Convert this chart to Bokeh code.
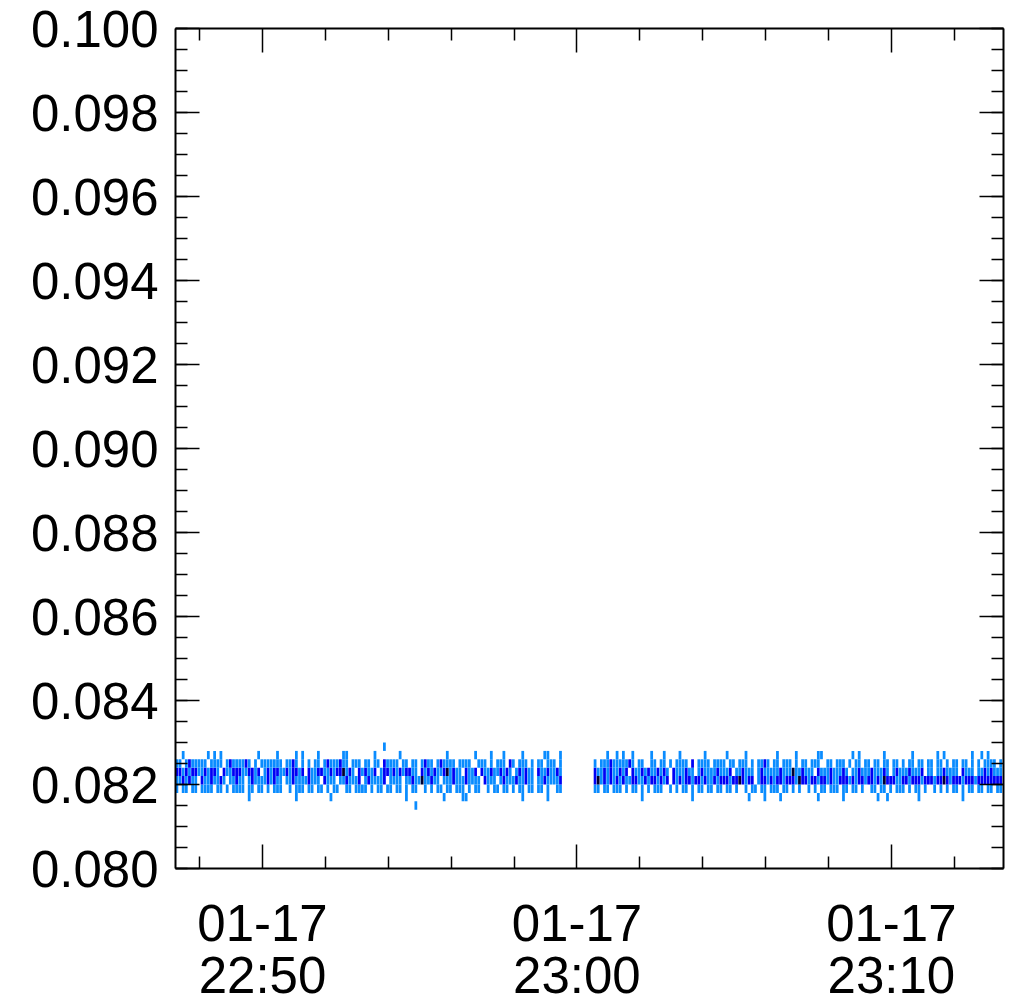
import numpy as np
from bokeh.plotting import figure
from bokeh.models import (Range1d, FixedTicker, SingleIntervalTicker, LinearAxis, DatetimeAxis,
                          DatetimeTickFormatter, CustomJSTickFormatter, NumeralTickFormatter,
                          ColumnDataSource)
from bokeh.embed import file_html
from bokeh.resources import INLINE

# ---------------- data ----------------
x_start = "2024-01-17T22:47:14"
x_end = "2024-01-17T23:13:34"
first_bin = "2024-01-17T22:47:14"
bin_seconds = 6
value_bin_size = 0.0002
value_bins = [0.0814, 0.0816, 0.0818, 0.0820, 0.0822, 0.0824, 0.0826, 0.0828]

x_major_ticks = ["2024-01-17T22:50", "2024-01-17T23:00", "2024-01-17T23:10"]
x_minor_ticks = ["2024-01-17T22:48", "2024-01-17T22:52", "2024-01-17T22:54", "2024-01-17T22:56",
                 "2024-01-17T22:58", "2024-01-17T23:02", "2024-01-17T23:04", "2024-01-17T23:06",
                 "2024-01-17T23:08", "2024-01-17T23:12"]
y_min, y_max = 0.080, 0.100

# occupancy per time bin ('.' none, '1' one sample, '2' two, '3' three) for each value bin
counts_0814 = ("..........|..........|..........|..........|..........|..........|..........|"
               "......1...|..........|..........|..........|..........|..........|..........|"
               "..........|..........|..........|..........|..........|..........|..........|"
               "..........|..........|..........|..........|..........|...")
counts_0816 = ("..........|..........|...1......|........1.|.........1|..........|..........|"
               "...1......|.....1....|.11.......|..........|1.......1.|..........|..........|"
               "........1.|..........|....1.....|..........|..1....1..|..1.......|....1.....|"
               "..1.......|...1..1...|......1...|..........|1.........|...")
counts_0818 = ("1.11.11.11|11.11.1.11|11.11.11.1|.111..1.11|1.11.11.1.|11..11.111|1.1.11.11.|"
               "11.1.11..1|.1.11.11.1|11.1.11..1|.11.11.1.1|1.11.11.1.|.11.......|...11.11.1|"
               "11.1.11.1.|1.111..1.1|.11.1.11.1|1.11.11.1.|.1.11.11.1|11.11.1.1.|.1.1.11.11|"
               "1.11.11.1.|.11.11.1.1|11.1.11.1.|.1.1.1.11.|1.11.11.11|.11")
counts_0820 = ("1121211.21|121121.112|11.1211112|1211.11211|112111.211|1.1121112.|1211112.11|"
               "11.1121131|1211.11121|1121111.21|11.1211121|1211.11211|112.......|...2312121|"
               "2121122112|1221212.21|2122122121|1212221223|2122.12212|1221222132|2122122121|"
               "1222121221|2212132221|1221222122|2122321222|1222122222|222")
counts_0822 = ("2212122112|1221.21122|2112212.12|1221121221|2.21122112|1223121.21|2112.12212|"
               "1212211.21|2121123121|1.2112.211|2112121.12|1211.21121|121.......|...2112121|"
               "1212.21121|2112121.21|11211.1211|1121112.11|2111.12111|1121113112|111.211121|"
               "1121.11211|1211121.12|11121112.1|1.1121111.|2111.11212|111")
counts_0824 = ("11.1211111|.1111.1211|1121.1.111|1111.1121.|1.1.11.121|11211.111.|11.11.2111|"
               "1.11.11.12|11.121111.|1111..111.|1.111.21.1|11.1.11.11|1.1.......|...1.11121|"
               "111121.11.|.11.11.1.1|111.2.1111|.1111.11.1|11.1.1121.|11.111.1.1|1.111..11.|"
               "111.1.11.1|1.11.11.11|.1.11.11.1|1.11.1.11.|11.1.1.111|1.1")
counts_0826 = ("..1.......|1.1.1.....|......1...|..1.....1.|1....1....|...11.....|...1......|"
               ".1........|......1...|.....1....|1...1.....|1......11.|..1.......|.......1..|"
               "1.1..1....|.1...1....|1.......1.|.....1....|.1........|.1.....1..|....11....|"
               ".....1.1..|.....1....|....1.....|..1.1.....|...1..1.1.|...")
counts_0828 = ("..........|..........|..........|..........|..........|..........|......1...|"
               "..........|..........|..........|..........|..........|..........|..........|"
               "..........|..........|..........|..........|..........|..........|..........|"
               "..........|..........|..........|..........|..........|...")
count_rows = [counts_0814, counts_0816, counts_0818, counts_0820,
              counts_0822, counts_0824, counts_0826, counts_0828]
count_colors = {"1": "#0A8CFF", "2": "#0000F5", "3": "#000030"}

# ---------------- build the cells ----------------
def ms(s):
    return float(np.datetime64(s, "ms").astype("int64"))

t0 = ms(first_bin)
bin_ms = bin_seconds * 1000.0
left, right, bottom, top, color = [], [], [], [], []
for vb, row in zip(value_bins, count_rows):
    cells = row.replace("|", "")
    for i, ch in enumerate(cells):
        if ch == ".":
            continue
        l = t0 + i * bin_ms
        left.append(l)
        right.append(l + bin_ms * 0.88)
        bottom.append(vb)
        top.append(vb + value_bin_size)
        color.append(count_colors[ch])
src = ColumnDataSource(dict(left=left, right=right, bottom=bottom, top=top, color=color))

FONT = "Liberation Sans"
FS = "51px"

p = figure(frame_width=828, frame_height=840, output_backend="svg", toolbar_location=None,
           x_axis_type=None, y_axis_type=None,
           x_range=Range1d(ms(x_start), ms(x_end)), y_range=Range1d(y_min, y_max),
           min_border_left=175, min_border_top=28, min_border_right=4, min_border_bottom=0,
           background_fill_color="white", border_fill_color="white")
p.outline_line_color = None

p.quad(left="left", right="right", bottom="bottom", top="top", color="color",
       line_color=None, source=src)

major_ms = [ms(s) for s in x_major_ticks]
minor_ms = [ms(s) for s in x_minor_ticks]
empty = CustomJSTickFormatter(code="return ''")

def style(ax, labels=True):
    ax.axis_line_width = 2
    ax.axis_line_color = "black"
    ax.major_tick_in = 24
    ax.major_tick_out = 0
    ax.minor_tick_in = 12
    ax.minor_tick_out = 0
    ax.major_tick_line_width = 1.5
    ax.minor_tick_line_width = 1.5
    ax.major_tick_line_color = "black"
    ax.minor_tick_line_color = "black"
    ax.major_label_text_font = FONT
    ax.major_label_text_font_size = FS
    ax.major_label_text_color = "black"
    if not labels:
        ax.major_label_standoff = 0

yticker = SingleIntervalTicker(interval=0.002, num_minor_ticks=4)
left_ax = LinearAxis(ticker=yticker, formatter=NumeralTickFormatter(format="0.000"))
style(left_ax)
left_ax.major_label_standoff = 17
p.add_layout(left_ax, "left")

right_ax = LinearAxis(ticker=SingleIntervalTicker(interval=0.002, num_minor_ticks=4), formatter=empty)
style(right_ax, labels=False)
p.add_layout(right_ax, "right")

def dt_fmt(f):
    return DatetimeTickFormatter(minsec=f, minutes=f, hourmin=f, hours=f, days=f, months=f, years=f,
                                 seconds=f, boundary_scaling=False, strip_leading_zeros=False)

top_ax = DatetimeAxis(ticker=FixedTicker(ticks=major_ms, minor_ticks=minor_ms), formatter=empty)
style(top_ax, labels=False)
p.add_layout(top_ax, "above")

bot1 = DatetimeAxis(ticker=FixedTicker(ticks=major_ms, minor_ticks=minor_ms), formatter=dt_fmt("%m-%d"))
style(bot1)
bot1.major_label_standoff = 36
p.add_layout(bot1, "below")

bot2 = DatetimeAxis(ticker=FixedTicker(ticks=major_ms, minor_ticks=[]), formatter=dt_fmt("%H:%M"))
style(bot2)
bot2.axis_line_color = None
bot2.major_tick_line_color = None
bot2.minor_tick_line_color = None
bot2.major_tick_in = 0
bot2.minor_tick_in = 0
bot2.major_label_standoff = 3
p.add_layout(bot2, "below")

open("out.html", "w").write(file_html(p, INLINE))
